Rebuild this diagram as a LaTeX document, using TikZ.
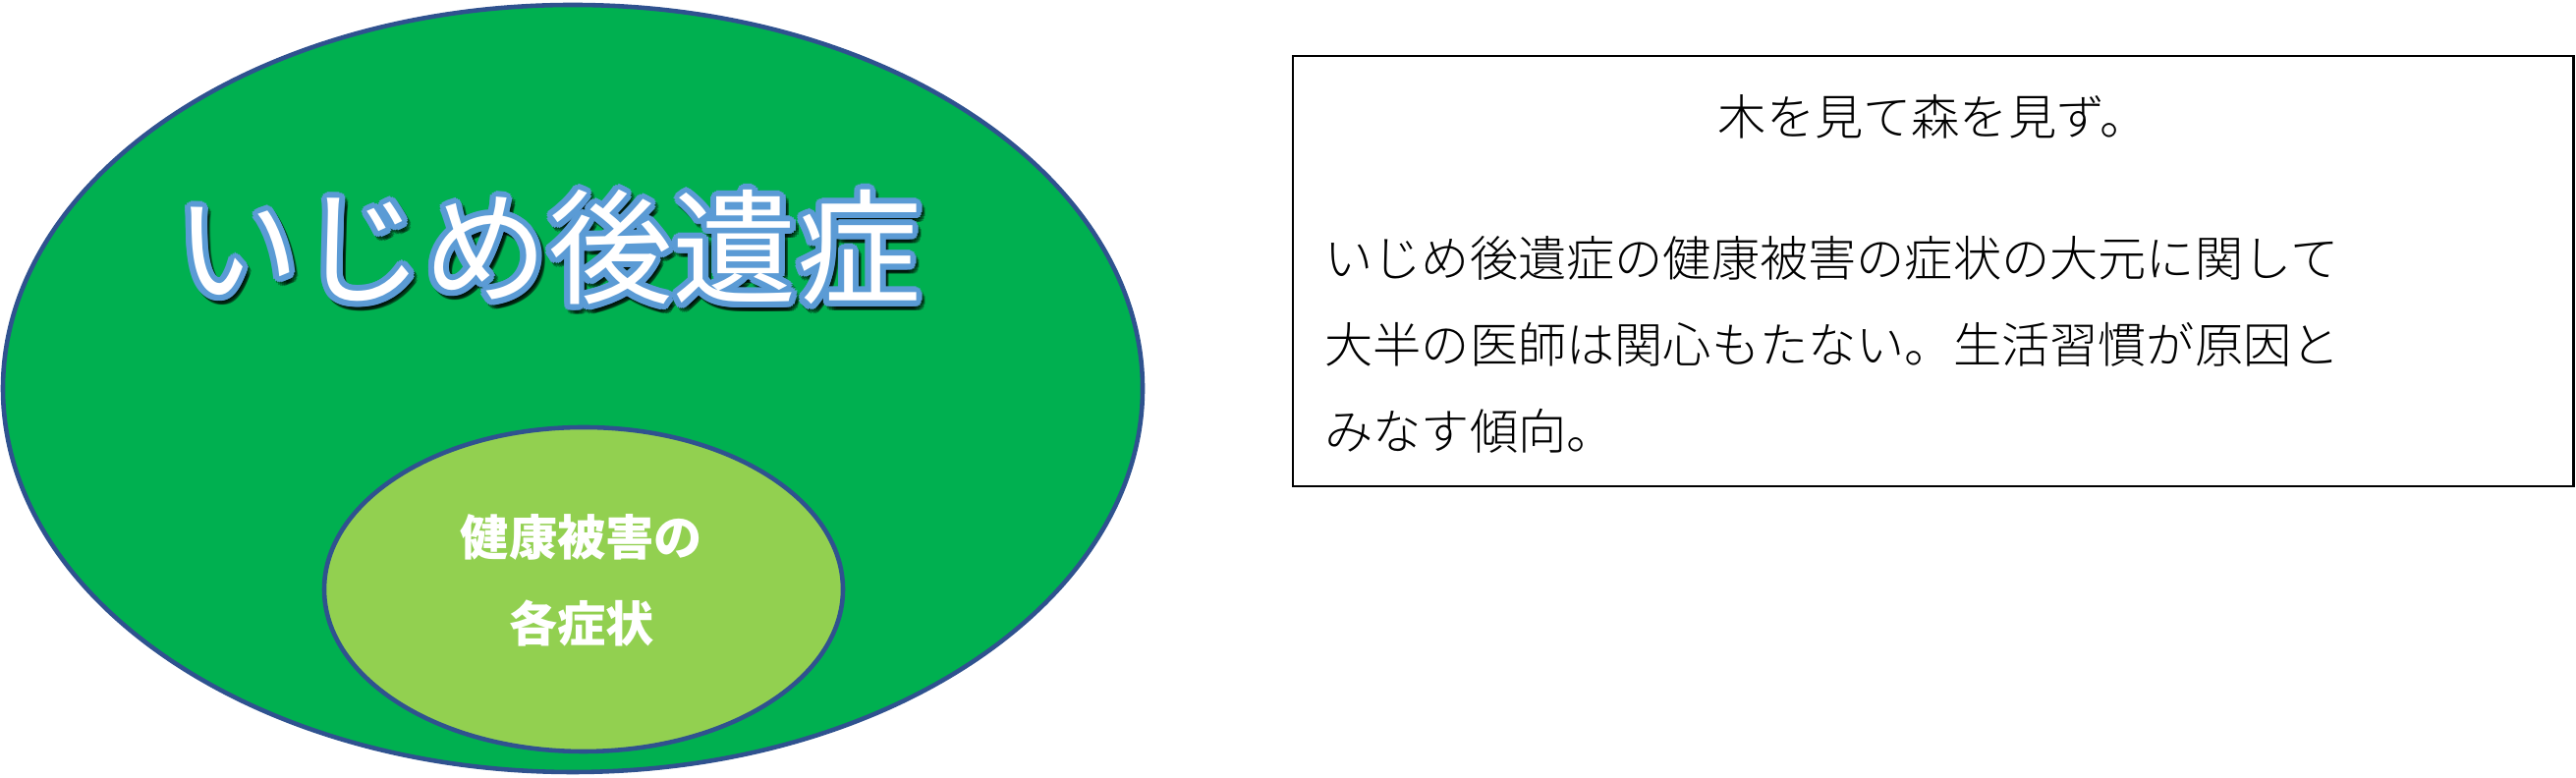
\documentclass[tikz,border=0pt]{standalone}
\usepackage{fontspec}
\setmainfont{Noto Sans CJK JP}
\newfontfamily\notefont{Noto Sans CJK JP}[UprightFont={* Light}]
\usepackage[copies]{contour}
\definecolor{outergreen}{HTML}{00B050}
\definecolor{innergreen}{HTML}{92D050}
\definecolor{rimblue}{HTML}{2F528F}
\definecolor{glowblue}{HTML}{5B9BD5}
\begin{document}
\begin{tikzpicture}
\useasboundingbox (0,0) rectangle (26.22,7.92);
% Define the two ovals
\def\outerOval{(5.83,3.965) ellipse (5.80cm and 3.905cm)}
\def\innerOval{(5.94,1.92) ellipse (2.64cm and 1.65cm)}

% Fill and outline the ovals
\filldraw[fill=outergreen, draw=rimblue, line width=1.3pt] \outerOval;
\filldraw[fill=innergreen, draw=rimblue, line width=1.3pt] \innerOval;

% Big title, with a faint shadow under it
\contourlength{1.7pt}
\node[text=black, opacity=0.3, font=\fontsize{36}{40}\selectfont] (titleshadow) at (5.61,5.33) {\contour{black}{いじめ後遺症}};
\node[text=white, font=\fontsize{36}{40}\selectfont] (title) at (5.58,5.37) {\contour{glowblue}{いじめ後遺症}};

% Label of the inner oval
\node[text=white, align=center, font=\bfseries\fontsize{14}{25}\selectfont] (symptoms) at (5.92,2.01) {健康被害の\\各症状};

% Note box on the right
\node[draw, line width=0.75pt, minimum width=13.035cm, minimum height=4.38cm] (notebox) at (19.6775,5.16) {};
\node[font=\notefont\fontsize{14}{25}\selectfont] (proverb) at ([yshift=-0.63cm]notebox.north) {木を見て森を見ず。};
\node[anchor=west, align=left, inner sep=0pt, font=\notefont\fontsize{14}{25}\selectfont] (remark) at ([xshift=0.33cm,yshift=-0.75cm]notebox.west) {いじめ後遺症の健康被害の症状の大元に関して\\大半の医師は関心もたない。生活習慣が原因と\\みなす傾向。};
\end{tikzpicture}
\end{document}
